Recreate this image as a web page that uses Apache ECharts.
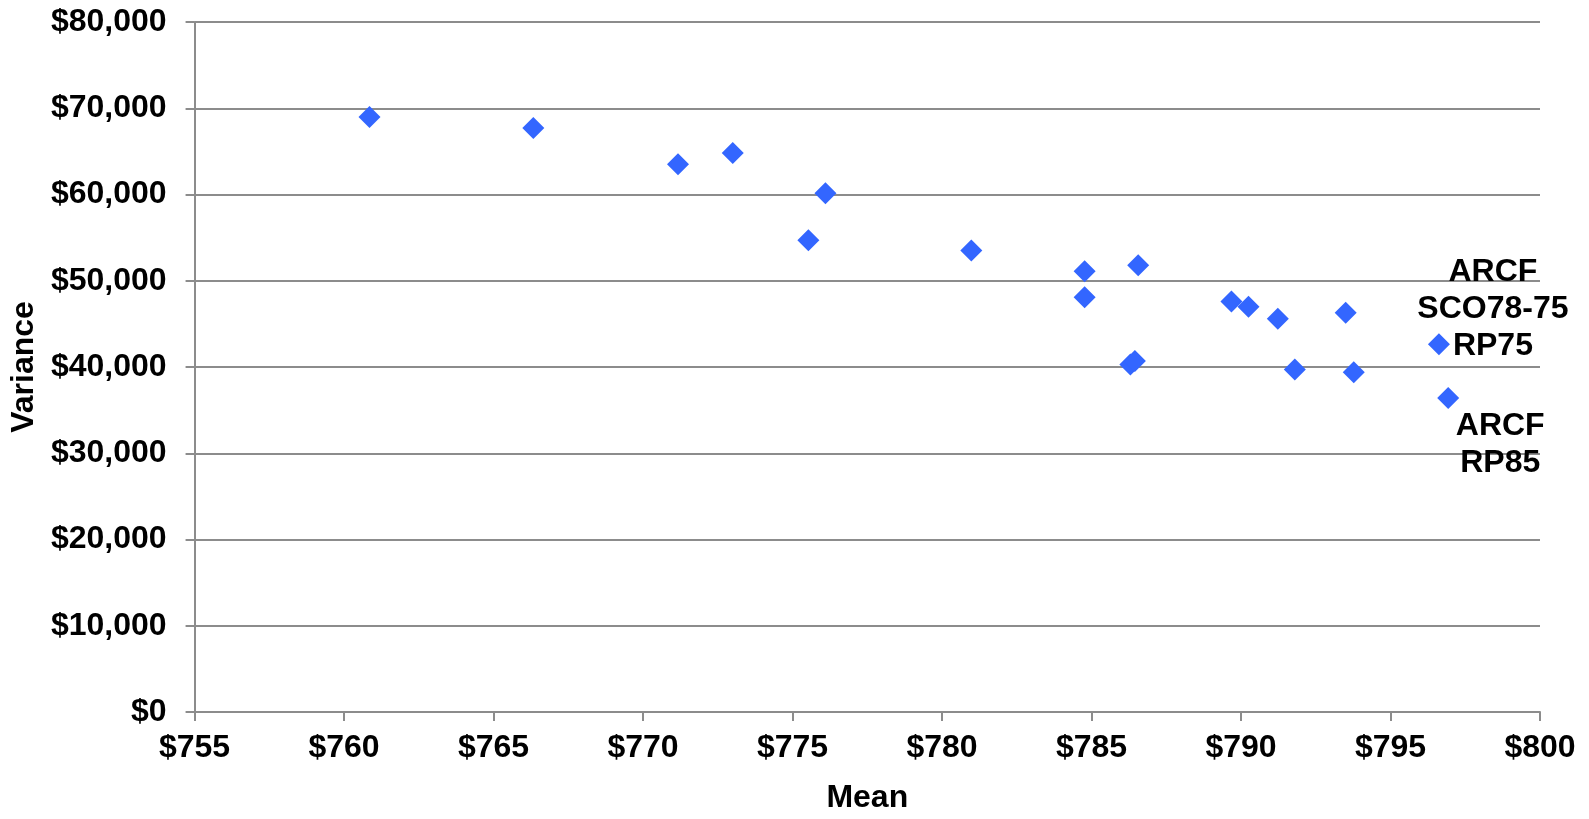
<!DOCTYPE html>
<html>
<head>
<meta charset="utf-8">
<script src="https://cdn.jsdelivr.net/npm/echarts@6/dist/echarts.min.js"></script>
<style>
html,body{margin:0;padding:0;background:#fff;}
#chart{width:1589px;height:819px;}
</style>
</head>
<body>
<div id="chart"></div>
<script>
// Data
var meanValues = [760.85, 766.33, 771.17, 773.0, 776.1, 775.53, 780.98, 784.77, 784.77, 786.56, 786.3, 786.45, 789.68, 790.25, 791.23, 791.8, 793.5, 793.77, 796.62, 796.93];
var varianceValues = [69000, 67700, 63500, 64800, 60150, 54700, 53500, 51100, 48100, 51800, 40300, 40700, 47600, 47000, 45600, 39700, 46300, 39400, 42650, 36400];
var pointLabels = ['', '', '', '', '', '', '', '', '', '', '', '', '', '', '', '', '', '', 'ARCF\nSCO78-75\nRP75', 'ARCF\nRP85'];
var xTicks = { min: 755, max: 800, step: 5 };
var yTicks = { min: 0, max: 80000, step: 10000 };

var FONT = "'Liberation Sans', Arial, sans-serif";
var FS = 32;
var labelPos = { 18: [65, -24], 19: [63, 58] };

var seriesData = meanValues.map(function (m, i) {
  var item = { value: [m, varianceValues[i]] };
  if (pointLabels[i]) {
    item.label = {
      show: true,
      formatter: pointLabels[i],
      position: labelPos[i],
      align: 'center',
      verticalAlign: 'middle',
      fontFamily: FONT,
      fontWeight: 'bold',
      fontSize: FS,
      lineHeight: 37,
      color: '#000',
      opacity: 1
    };
  }
  return item;
});

function money(v) { return '$' + Number(v).toLocaleString('en-US'); }

var chart = echarts.init(document.getElementById('chart'));
chart.setOption({
  backgroundColor: '#fff',
  animation: false,
  grid: { left: 194, right: 49, top: 22, bottom: 98, containLabel: false },
  xAxis: {
    type: 'value',
    min: xTicks.min, max: xTicks.max, interval: xTicks.step,
    name: 'Mean', nameLocation: 'middle', nameGap: 70,
    nameTextStyle: { fontFamily: FONT, fontWeight: 'bold', fontSize: FS, color: '#000' },
    axisLine: { show: true, onZero: false, lineStyle: { color: '#8c8c8c', width: 2 } },
    axisTick: { show: true, length: 9, lineStyle: { color: '#8c8c8c', width: 2 } },
    axisLabel: { formatter: money, margin: 20, fontFamily: FONT, fontWeight: 'bold', fontSize: FS, color: '#000' },
    splitLine: { show: false }
  },
  yAxis: {
    type: 'value',
    min: yTicks.min, max: yTicks.max, interval: yTicks.step,
    name: 'Variance', nameLocation: 'middle', nameGap: 150,
    nameTextStyle: { fontFamily: FONT, fontWeight: 'bold', fontSize: FS, color: '#000' },
    axisLine: { show: true, lineStyle: { color: '#8c8c8c', width: 2 } },
    axisTick: { show: true, length: 9, lineStyle: { color: '#8c8c8c', width: 2 } },
    axisLabel: { formatter: money, margin: 28, fontFamily: FONT, fontWeight: 'bold', fontSize: FS, color: '#000' },
    splitLine: { show: true, lineStyle: { color: '#8c8c8c', width: 2 } }
  },
  series: [{
    type: 'scatter',
    symbol: 'diamond',
    symbolSize: 22,
    itemStyle: { color: '#3366ff', opacity: 1 },
    data: seriesData
  }]
});
</script>
</body>
</html>
